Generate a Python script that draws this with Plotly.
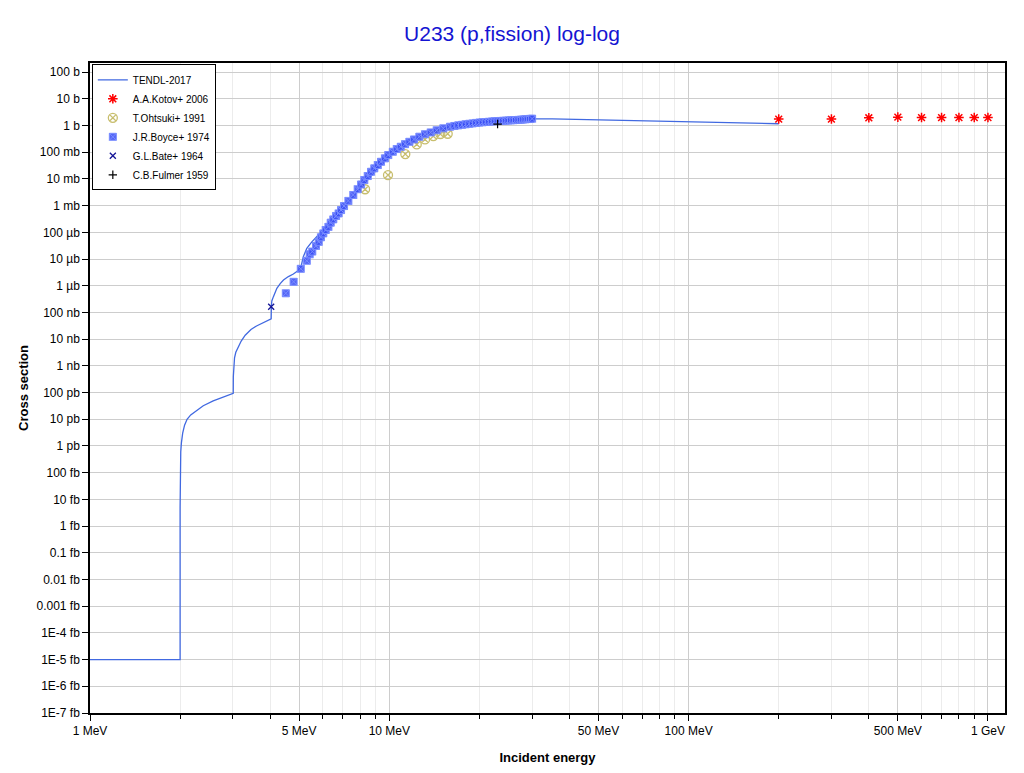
import plotly.graph_objects as go

# ---------------- data (energies in MeV, cross sections in barns) ----------------
tendl_e = [1.0, 2.0, 2.0, 2.001, 2.004, 2.010, 2.02, 2.04, 2.07, 2.11, 2.17, 2.25, 2.39, 2.58, 2.79, 3.01,
           3.012, 3.02, 3.04, 3.07, 3.12, 3.20, 3.30, 3.45, 3.60, 3.80, 4.03,
           4.035, 4.05, 4.10, 4.21, 4.32, 4.43, 4.60, 4.78, 4.95, 5.06,
           5.10, 5.16, 5.30, 5.51, 5.72, 6.0, 6.67, 7.0, 7.5, 8.0, 8.5, 9.0, 9.5, 10.0,
           11.0, 12.0, 13.0, 14.0, 15.0, 16.0, 18.0, 20.0, 22.0, 25.0, 28.0, 30.0,
           35.0, 40.0, 50.0, 70.0, 100.0, 150.0, 200.0]
tendl_s = [1e-20, 1e-20, 5e-15, 3e-14, 2e-13, 6e-13, 1.3e-12, 3.0e-12, 6.0e-12, 1.0e-11, 1.45e-11, 2.0e-11,
           3.2e-11, 4.9e-11, 7.0e-11, 9.4e-11,
           4.0e-10, 1.0e-9, 2.0e-9, 3.2e-9, 5.0e-9, 8.5e-9, 1.4e-8, 2.3e-8, 3.1e-8, 4.2e-8, 5.8e-8,
           1.6e-7, 2.7e-7, 3.9e-7, 8.0e-7, 1.2e-6, 1.63e-6, 2.2e-6, 2.74e-6, 3.6e-6, 4.5e-6,
           6.9e-6, 1.22e-5, 2.5e-5, 4.4e-5, 6.8e-5, 1.2e-4, 4.4e-4, 8.5e-4, 2.0e-3, 4.8e-3, 9.8e-3, 0.020, 0.038, 0.068,
           0.15, 0.27, 0.42, 0.58, 0.74, 0.90, 1.12, 1.30, 1.42, 1.57, 1.70, 1.77,
           1.78, 1.72, 1.60, 1.48, 1.36, 1.24, 1.16]

kotov_e = [200, 300, 400, 500, 600, 700, 800, 900, 1000]
kotov_s = [1.74, 1.74, 1.94, 2.05, 1.98, 1.98, 1.98, 1.98, 1.98]

ohtsuki_e = [8.30, 9.90, 11.31, 12.35, 13.16, 14.03, 14.81, 15.67]
ohtsuki_s = [4.1e-3, 0.0139, 0.085, 0.196, 0.30, 0.40, 0.48, 0.49]

boyce_e = [4.51, 4.79, 5.06, 5.30, 5.42, 5.53, 5.69, 5.81, 5.91, 6.02, 6.13, 6.26, 6.37, 6.50,
           6.64, 6.77, 6.90, 7.06, 7.30, 7.58, 7.84, 8.05, 8.25, 8.47, 8.69, 8.91, 9.15, 9.38,
           9.67, 9.92, 10.27, 10.59, 10.92, 11.29, 11.67, 12.09, 12.60, 13.16, 13.75, 14.40,
           15.15, 15.95, 16.5, 17.0, 17.5, 18.0, 18.5, 19.0, 19.5, 20.0, 20.5, 21.0, 21.5, 22.0,
           22.5, 23.0, 23.5, 24.0, 24.5, 25.0, 25.5, 26.0, 26.5, 27.0, 27.5, 28.0, 28.5, 29.0,
           29.5, 30.0]
boyce_s = [5.2e-7, 1.4e-6, 4.3e-6, 8.6e-6, 1.5e-5, 1.9e-5, 3.1e-5, 4.4e-5, 6.5e-5, 9.1e-5, 1.22e-4,
           1.6e-4, 2.3e-4, 3.05e-4, 4.1e-4, 5.1e-4, 6.8e-4, 9.6e-4, 1.5e-3, 2.5e-3, 4.1e-3, 6.2e-3,
           9.1e-3, 0.0128, 0.0185, 0.0248, 0.033, 0.0438, 0.0587, 0.078, 0.104, 0.131, 0.16, 0.20,
           0.245, 0.30, 0.38, 0.47, 0.55, 0.66, 0.78, 0.90, 0.96, 1.01, 1.06, 1.11, 1.16, 1.20,
           1.25, 1.29, 1.32, 1.35, 1.38, 1.41, 1.44, 1.46, 1.48, 1.50, 1.52, 1.54, 1.56, 1.58,
           1.60, 1.62, 1.65, 1.68, 1.71, 1.74, 1.77, 1.80]

bate_e = [4.03]
bate_s = [1.63e-7]

fulmer_e = [23.0]
fulmer_s = [1.13]

x_tickvals = [1, 5, 10, 50, 100, 500, 1000]
x_ticktext = ["1 MeV", "5 MeV", "10 MeV", "50 MeV", "100 MeV", "500 MeV", "1 GeV"]
x_minor = [2, 3, 4, 6, 7, 8, 9, 20, 30, 40, 60, 70, 80, 90, 200, 300, 400, 600, 700, 800, 900]

y_tickvals = [1e2, 1e1, 1e0, 1e-1, 1e-2, 1e-3, 1e-4, 1e-5, 1e-6, 1e-7, 1e-8, 1e-9, 1e-10,
              1e-11, 1e-12, 1e-13, 1e-14, 1e-15, 1e-16, 1e-17, 1e-18, 1e-19, 1e-20, 1e-21, 1e-22]
y_ticktext = ["100 b", "10 b", "1 b", "100 mb", "10 mb", "1 mb", "100 µb", "10 µb", "1 µb",
              "100 nb", "10 nb", "1 nb", "100 pb", "10 pb", "1 pb", "100 fb", "10 fb", "1 fb",
              "0.1 fb", "0.01 fb", "0.001 fb", "1E-4 fb", "1E-5 fb", "1E-6 fb", "1E-7 fb"]

# ---------------- figure ----------------
fig = go.Figure()

fig.add_trace(go.Scatter(x=tendl_e, y=tendl_s, mode="lines", name="TENDL-2017",
                         line=dict(color="rgb(65,105,225)", width=1.3)))
fig.add_trace(go.Scatter(x=kotov_e, y=kotov_s, mode="markers", name="A.A.Kotov+ 2006",
                         marker=dict(symbol="asterisk-open", size=8, color="red",
                                     line=dict(color="red", width=1.5))))
fig.add_trace(go.Scatter(x=ohtsuki_e, y=ohtsuki_s, mode="markers", name="T.Ohtsuki+ 1991",
                         marker=dict(symbol="circle-x-open", size=9, color="rgb(200,190,110)",
                                     line=dict(color="rgb(200,190,110)", width=1.3))))
fig.add_trace(go.Scatter(x=boyce_e, y=boyce_s, mode="markers", name="J.R.Boyce+ 1974",
                         marker=dict(symbol="square-x", size=7, color="rgba(55,75,245,0.85)",
                                     line=dict(color="rgb(120,140,255)", width=1))))
fig.add_trace(go.Scatter(x=bate_e, y=bate_s, mode="markers", name="G.L.Bate+ 1964",
                         marker=dict(symbol="x-thin-open", size=6, color="rgb(20,20,150)",
                                     line=dict(color="rgb(20,20,150)", width=1.3))))
fig.add_trace(go.Scatter(x=fulmer_e, y=fulmer_s, mode="markers", name="C.B.Fulmer 1959",
                         marker=dict(symbol="cross-thin-open", size=6, color="black",
                                     line=dict(color="black", width=1.2))))

font_family = "Liberation Sans, Arial, sans-serif"

fig.update_layout(
    width=1024, height=773,
    margin=dict(l=90, r=19, t=63, b=60, autoexpand=False),
    paper_bgcolor="white", plot_bgcolor="white",
    font=dict(family=font_family, size=12, color="black"),
    title=dict(text="U233 (p,fission) log-log", x=0.5, xanchor="center", y=0.956, yanchor="middle",
               font=dict(family=font_family, size=21, color="rgb(20,20,210)")),
    showlegend=True,
    legend=dict(x=0.002, y=0.998, xanchor="left", yanchor="top",
                bgcolor="white", bordercolor="black", borderwidth=1,
                font=dict(family=font_family, size=10, color="black"),
                tracegroupgap=0, itemwidth=30),
)

fig.update_xaxes(
    type="log", range=[0, 3.057], automargin=False,
    tickvals=x_tickvals, ticktext=x_ticktext,
    ticks="outside", ticklen=6, tickcolor="black",
    showgrid=True, gridcolor="rgb(205,205,205)", gridwidth=1,
    minor=dict(tickvals=x_minor, ticks="outside", ticklen=4, tickcolor="black",
               showgrid=True, gridcolor="rgb(236,236,236)", gridwidth=1),
    showline=True, linecolor="black", linewidth=1.5, mirror=True,
    zeroline=False,
    tickfont=dict(family=font_family, size=12),
    title=dict(text="<b>Incident energy</b>", font=dict(family=font_family, size=13), standoff=16),
)

fig.update_yaxes(
    type="log", range=[-22, 2.34], automargin=False,
    tickvals=y_tickvals, ticktext=y_ticktext,
    ticks="outside", ticklen=6, tickcolor="black",
    showgrid=True, gridcolor="rgb(205,205,205)", gridwidth=1,
    showline=True, linecolor="black", linewidth=1.5, mirror=True,
    zeroline=False,
    tickfont=dict(family=font_family, size=12),
    title=dict(text="<b>Cross section</b>", font=dict(family=font_family, size=13), standoff=5),
)

fig.write_html("out.html", config={"displayModeBar": False},
               post_script="document.body.style.margin='0';")
